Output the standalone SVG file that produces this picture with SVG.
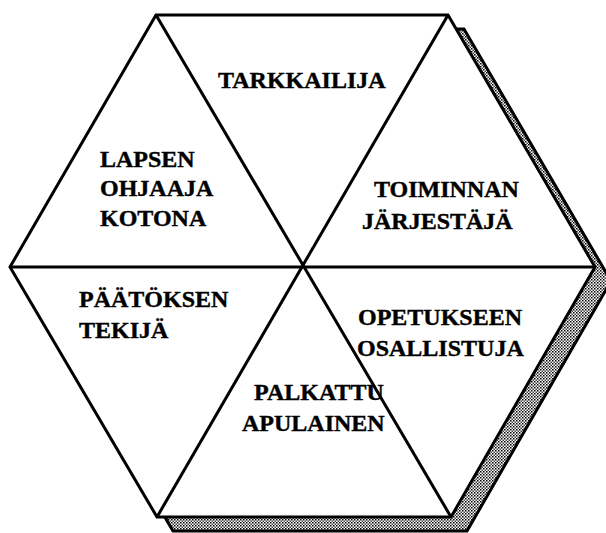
<svg xmlns="http://www.w3.org/2000/svg" width="606" height="533" viewBox="0 0 606 533">
<defs>
<pattern id="dots" width="3" height="3" patternUnits="userSpaceOnUse">
<rect width="3" height="3" fill="#ffffff"/>
<rect x="0" y="0" width="1.5" height="1.5" fill="#000000"/>
<rect x="1.5" y="1.5" width="1.5" height="1.5" fill="#444444"/>
</pattern>
<style>
.edge{stroke:#000;stroke-width:3;stroke-linejoin:miter}
.hex{fill:#fff}
.ln{fill:none}
.lbl{font-family:"Liberation Serif","Times New Roman",serif;font-weight:bold;font-size:24px;fill:#000;stroke:#000;stroke-width:0.4}
</style>
</defs>
<rect width="606" height="533" fill="#fff"/>
<g id="shadow">
<polygon points="172,29 464,29 611,281 467,531 173,531 26,281" fill="url(#dots)" stroke="#000" stroke-width="3"/>
</g>
<g id="hexagon">
<polygon points="156,15 448,15 595,267 451,517 157,517 10,267" class="edge hex"/>
</g>
<g id="connectors">
<line x1="10" y1="267" x2="595" y2="267" class="edge ln"/>
<line x1="156" y1="15" x2="451" y2="517" class="edge ln"/>
<line x1="448" y1="15" x2="157" y2="517" class="edge ln"/>
</g>
<g id="tarkkailija"><text class="lbl" x="218" y="88">TARKKAILIJA</text></g>
<g id="lapsen"><text class="lbl" x="100" y="167">LAPSEN</text><text class="lbl" x="100" y="196">OHJAAJA</text><text class="lbl" x="100" y="226">KOTONA</text></g>
<g id="toiminnan"><text class="lbl" x="374" y="197">TOIMINNAN</text><text class="lbl" x="362" y="229">JÄRJESTÄJÄ</text></g>
<g id="opetukseen"><text class="lbl" x="358" y="325">OPETUKSEEN</text><text class="lbl" x="357" y="356">OSALLISTUJA</text></g>
<g id="paatoksen"><text class="lbl" x="79" y="307">PÄÄTÖKSEN</text><text class="lbl" x="79" y="338">TEKIJÄ</text></g>
<g id="palkattu"><text class="lbl" x="254" y="400">PALKATTU</text><text class="lbl" x="242" y="431">APULAINEN</text></g>
</svg>
